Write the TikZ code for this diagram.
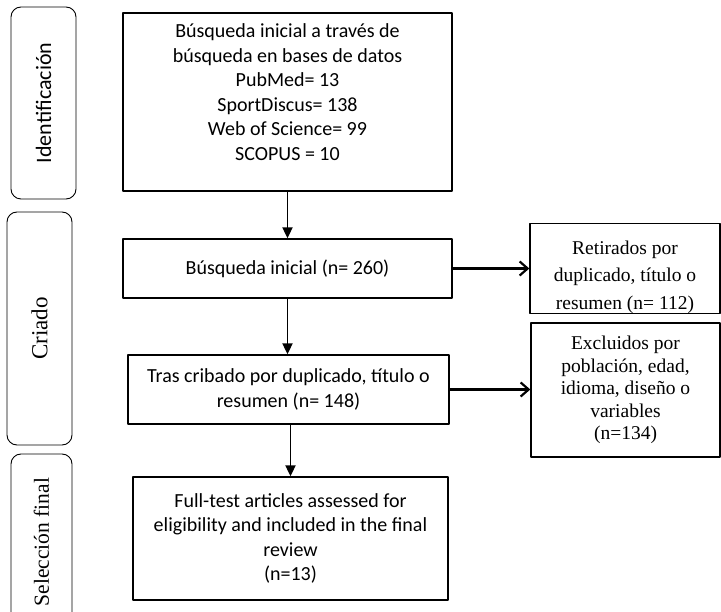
\documentclass[tikz,border=0pt]{standalone}
\usepackage{fontspec}
\setmainfont{Liberation Serif}
\newfontfamily\calibri{Carlito}
\usetikzlibrary{arrows.meta}

\begin{document}
\begin{tikzpicture}[x=1pt, y=1pt, line cap=round, line join=round,
		mainbox/.style={draw, line width=1.3pt, align=center, inner sep=0pt,
			font=\calibri\fontsize{20}{24.6}\selectfont},
		sidebox/.style={draw, line width=1.3pt, align=center, inner sep=0pt,
			font=\fontsize{19.5}{27.5}\selectfont},
		phase/.style={draw, line width=0.9pt, rounded corners=10pt, rotate=90,
			inner sep=0pt},
		down/.style={line width=1.8pt, -{Triangle[length=11pt,width=10pt]}},
		side/.style={line width=2.2pt, -{Straight Barb[length=8pt,width=14pt]}}]
			\useasboundingbox (0,0) rectangle (721,-612);
			\clip (0,0) rectangle (721,-612);
			
			% Phase labels on the left (rounded boxes)
			\node[phase, minimum width=192, minimum height=65,
				font=\calibri\fontsize{22}{26}\selectfont] (ident) at (43.5,-103) {Identificación};
			\node[phase, minimum width=233, minimum height=65,
				font=\fontsize{23}{26}\selectfont] (criado) at (39.5,-328.5) {Criado};
			\node[phase, minimum width=176, minimum height=61,
				font=\fontsize{21.5}{26}\selectfont] (selec) at (41.5,-542) {Selección final};
			
			% Main column
			\node[mainbox, minimum width=329, minimum height=178] (search) at (287.5,-102)
				{Búsqueda inicial a través de\\búsqueda en bases de datos\\PubMed= 13\\SportDiscus= 138\\Web of Science= 99\\SCOPUS = 10\rule[-20pt]{0pt}{0pt}};
			\node[mainbox, minimum width=329, minimum height=59] (initial) at (287.5,-268.5)
				{Búsqueda inicial (n= 260)};
			\node[mainbox, minimum width=321, minimum height=69] (screen) at (288.5,-389.5)
				{Tras cribado por duplicado, título o\\resumen (n= 148)};
			\node[mainbox, minimum width=315, minimum height=123] (final) at (290.5,-538.5)
				{Full-test articles assessed for\\eligibility and included in the final\\review\\(n=13)};
			
			% Excluded records on the right
			\node[sidebox, minimum width=190, minimum height=89] (removed) at (625,-268.5)
				{\rule{0pt}{31pt}Retirados por\\duplicado, título o\\resumen (n= 112)};
			\node[sidebox, minimum width=189, minimum height=134,
				font=\fontsize{19.5}{22.5}\selectfont] (excluded) at (625.5,-390)
				{Excluidos por\\población, edad,\\idioma, diseño o\\variables\\(n=134)};
			
			% Arrows
			\draw[down] (search.south) -- (initial.north);
			\draw[down] (initial.south) -- (initial.south |- screen.north);
			\draw[down] (screen.south -| final.north) -- (final.north);
			\draw[side] (initial.east) -- (removed.west);
			\draw[side] (screen.east) -- (screen.east -| excluded.west);
			
		\end{tikzpicture}
\end{document}
